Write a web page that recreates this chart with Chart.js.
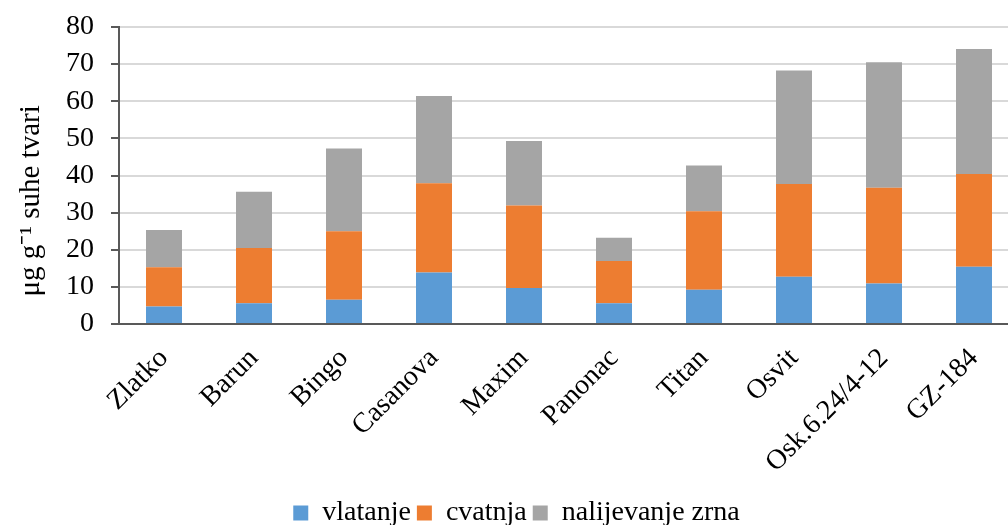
<!DOCTYPE html>
<html>
<head>
<meta charset="utf-8">
<script src="https://cdn.jsdelivr.net/npm/chart.js@4"></script>
<style>
  html, body { margin: 0; padding: 0; background: #fff; overflow: hidden; }
  #wrap { width: 1030px; height: 537px; }
</style>
</head>
<body>
<div id="wrap"><canvas id="chart" width="1030" height="537"></canvas></div>
<script>
let sorte = ["Zlatko", "Barun", "Bingo", "Casanova", "Maxim", "Panonac", "Titan", "Osvit", "Osk.6.24/4-12", "GZ-184"];
let vlatanje = [4.7, 5.6, 6.5, 13.9, 9.7, 5.6, 9.2, 12.7, 10.9, 15.4];
let cvatnja = [10.6, 14.9, 18.5, 24.0, 22.2, 11.4, 21.2, 25.0, 25.8, 25.0];
let nalijevanje = [10.0, 15.1, 22.3, 23.5, 17.4, 6.2, 12.3, 30.6, 33.8, 33.7];
let yTicks = [0, 10, 20, 30, 40, 50, 60, 70, 80];

let serif = "'Liberation Serif', 'Times New Roman', serif";
let ctx = document.getElementById('chart').getContext('2d');

let chart = new Chart(ctx, {
  type: 'bar',
  data: {
    labels: sorte,
    datasets: [
      { label: 'vlatanje', data: vlatanje, backgroundColor: '#5B9BD5' },
      { label: 'cvatnja', data: cvatnja, backgroundColor: '#ED7D31' },
      { label: 'nalijevanje zrna', data: nalijevanje, backgroundColor: '#A5A5A5' }
    ]
  },
  options: {
    responsive: false,
    animation: false,
    barPercentage: 0.4,
    categoryPercentage: 1,
    layout: { padding: { left: 14, top: 27, right: 11, bottom: 0 } },
    plugins: {
      legend: {
        position: 'bottom',
        labels: {
          boxWidth: 15,
          boxHeight: 15,
          padding: 6,
          color: '#000',
          font: { family: serif, size: 28 }
        }
      },
      tooltip: { enabled: false }
    },
    scales: {
      x: {
        stacked: true,
        grid: { display: false },
        border: { display: true, color: '#595959', width: 2 },
        ticks: {
          color: '#000',
          maxRotation: 45,
          minRotation: 45,
          padding: 10,
          font: { family: serif, size: 28 }
        },
        afterFit: function (scale) { scale.height = 169; }
      },
      y: {
        stacked: true,
        min: 0,
        max: 80,
        afterBuildTicks: function (scale) {
          scale.ticks = yTicks.map(v => ({ value: v }));
        },
        grid: { color: '#D9D9D9', lineWidth: 2, tickLength: 8, tickColor: '#595959', tickWidth: 2 },
        border: { display: true, color: '#595959', width: 2 },
        ticks: {
          color: '#000',
          padding: 17,
          autoSkip: false,
          font: { family: serif, size: 28 }
        },
        title: {
          display: true,
          text: 'μg g⁻¹ suhe tvari       ',
          color: '#000',
          padding: { top: 0, bottom: 0 },
          font: { family: serif, size: 29 }
        },
        afterFit: function (scale) {
          scale.width = 105;
          scale.paddingTop = 0;
          scale.paddingBottom = 0;
        }
      }
    }
  }
});
</script>
</body>
</html>
